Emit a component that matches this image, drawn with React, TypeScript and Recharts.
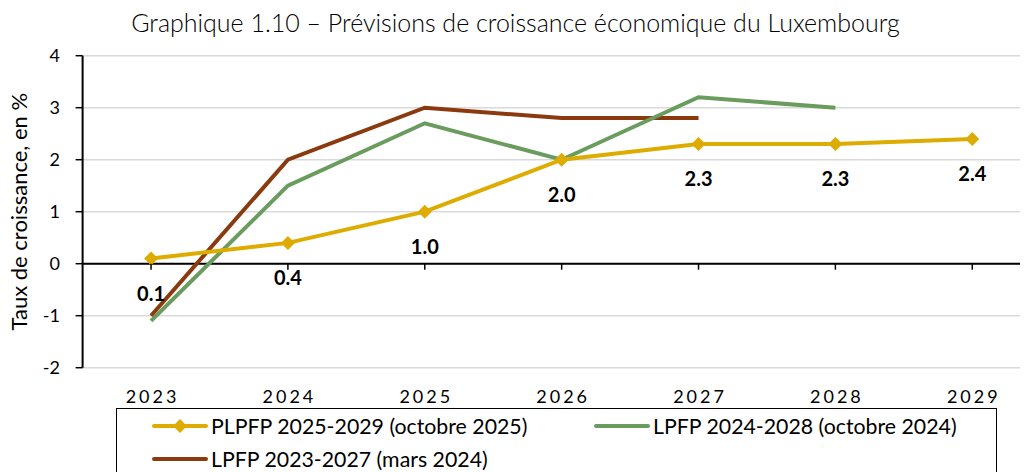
import React from 'react';
import { LineChart, Line, XAxis, YAxis, CartesianGrid, ReferenceLine, LabelList, Legend } from 'recharts';

const years = ['2023', '2024', '2025', '2026', '2027', '2028', '2029'];
const plpfp2025 = [0.1, 0.4, 1.0, 2.0, 2.3, 2.3, 2.4];
const lpfp2024 = [-1.1, 1.5, 2.7, 2.0, 3.2, 3.0, null];
const lpfp2023 = [-1.0, 2.0, 3.0, 2.8, 2.8, null, null];
const yTicks = [-2, -1, 0, 1, 2, 3, 4];

const seriesNames = {
  plpfp2025: 'PLPFP 2025-2029 (octobre 2025)',
  lpfp2024: 'LPFP 2024-2028 (octobre 2024)',
  lpfp2023: 'LPFP 2023-2027 (mars 2024)',
};

const COLORS = { gold: '#DEAB00', green: '#6A9C5E', brown: '#8A3A0E' };
const FONT = 'Lato, "Open Sans", sans-serif';

const data = years.map((y, i) => ({
  year: y,
  plpfp2025: plpfp2025[i],
  lpfp2024: lpfp2024[i],
  lpfp2023: lpfp2023[i],
}));

const PLOT_W = 958.1;
const PLOT_H = 312;
const Y_MIN = -2;
const Y_MAX = 4;
const zeroOffset = (PLOT_H * (0 - Y_MIN)) / (Y_MAX - Y_MIN);
const halfBand = PLOT_W / years.length / 2;

const XTick = (props: any) => {
  const { x, y, payload } = props;
  const y0 = y - zeroOffset;
  return (
    <g>
      <line x1={x} x2={x} y1={y0} y2={y0 + 6} stroke="#000" strokeWidth={1.5} />
      <text x={x + 1.5} y={y + 35} textAnchor="middle" fontFamily={FONT} fontSize={18} letterSpacing={3} fill="#000">
        {payload.value}
      </text>
    </g>
  );
};

const Diamond = (props: any) => {
  const { cx, cy } = props;
  if (cx == null || cy == null) return null;
  const r = 7;
  return <path d={`M${cx},${cy - r} L${cx + r},${cy} L${cx},${cy + r} L${cx - r},${cy} Z`} fill={COLORS.gold} />;
};

const ValueLabel = (props: any) => {
  const { x, y, value } = props;
  if (value == null) return null;
  return (
    <text x={x} y={y + 42} textAnchor="middle" fontFamily={FONT} fontWeight={700} fontSize={20} fill="#000">
      {Number(value).toFixed(1)}
    </text>
  );
};

const YTitle = (props: any) => {
  const vb = props.viewBox || {};
  const cy = (vb.y ?? 47.7) + (vb.height ?? PLOT_H) / 2;
  return (
    <text x={19} y={cy} transform={`rotate(-90, 19, ${cy})`} textAnchor="middle" fontFamily={FONT} fontSize={22} fill="#000">
      Taux de croissance, en %
    </text>
  );
};

const LegendIcon = ({ color, marker }: { color: string; marker?: boolean }) => (
  <svg width={56} height={16} style={{ display: 'block' }}>
    <line x1={2} x2={54} y1={8} y2={8} stroke={color} strokeWidth={4} strokeLinecap="round" />
    {marker && <path d="M28,1 L35,8 L28,15 L21,8 Z" fill={color} />}
  </svg>
);

const LegendBox = () => {
  const item = (left: number, top: number, color: string, label: string, marker?: boolean) => (
    <div style={{ position: 'absolute', left, top, display: 'flex', alignItems: 'center', whiteSpace: 'nowrap' }}>
      <LegendIcon color={color} marker={marker} />
      <span style={{ marginLeft: 3, fontFamily: FONT, fontSize: 21.3, color: '#000', lineHeight: '24px' }}>{label}</span>
    </div>
  );
  return (
    <div
      style={{
        position: 'absolute',
        left: 0,
        top: 0,
        width: 881,
        height: 70,
        border: '1.5px solid #000',
        boxSizing: 'border-box',
        background: '#fff',
      }}
    >
      {item(35, 5, COLORS.gold, seriesNames.plpfp2025, true)}
      {item(477, 5, COLORS.green, seriesNames.lpfp2024)}
      {item(35, 38, COLORS.brown, seriesNames.lpfp2023)}
    </div>
  );
};

export default function App() {
  return (
    <div style={{ width: 1020, height: 464, overflow: 'hidden', position: 'relative', background: '#fff' }}>
      <LineChart width={1040} height={464} data={data} margin={{ top: 47.7, right: 7.3, left: 0, bottom: 44.3 }}>
        <text x={507.5} y={24.3} textAnchor="middle" fontFamily={FONT} fontWeight={300} fontSize={25} fill="#000">
          Graphique 1.10 – Prévisions de croissance économique du Luxembourg
        </text>
        <CartesianGrid vertical={false} stroke="#D9D9D9" strokeWidth={1.5} />
        <XAxis
          dataKey="year"
          axisLine={false}
          tickLine={false}
          tickSize={0}
          tickMargin={0}
          height={60}
          tick={<XTick />}
          interval={0}
          padding={{ left: halfBand, right: halfBand }}
        />
        <YAxis
          width={74.6}
          domain={[Y_MIN, Y_MAX]}
          ticks={yTicks}
          interval={0}
          axisLine={{ stroke: '#000', strokeWidth: 2 }}
          tickLine={{ stroke: '#000', strokeWidth: 1.5 }}
          tickSize={7}
          tickMargin={15.6}
          tick={{ fill: '#000', fontSize: 18, fontFamily: FONT }}
          label={<YTitle />}
        />
        <ReferenceLine y={0} stroke="#000" strokeWidth={2} />
        <Line dataKey="lpfp2023" name={seriesNames.lpfp2023} stroke={COLORS.brown} strokeWidth={4} dot={false} isAnimationActive={false} />
        <Line dataKey="lpfp2024" name={seriesNames.lpfp2024} stroke={COLORS.green} strokeWidth={4} dot={false} isAnimationActive={false} />
        <Line dataKey="plpfp2025" name={seriesNames.plpfp2025} stroke={COLORS.gold} strokeWidth={4} dot={<Diamond />} isAnimationActive={false}>
          <LabelList dataKey="plpfp2025" content={<ValueLabel />} />
        </Line>
        <Legend
          content={<LegendBox />}
          wrapperStyle={{ position: 'absolute', left: 108, top: 400, width: 881, height: 0, overflow: 'visible' }}
        />
      </LineChart>
    </div>
  );
}
